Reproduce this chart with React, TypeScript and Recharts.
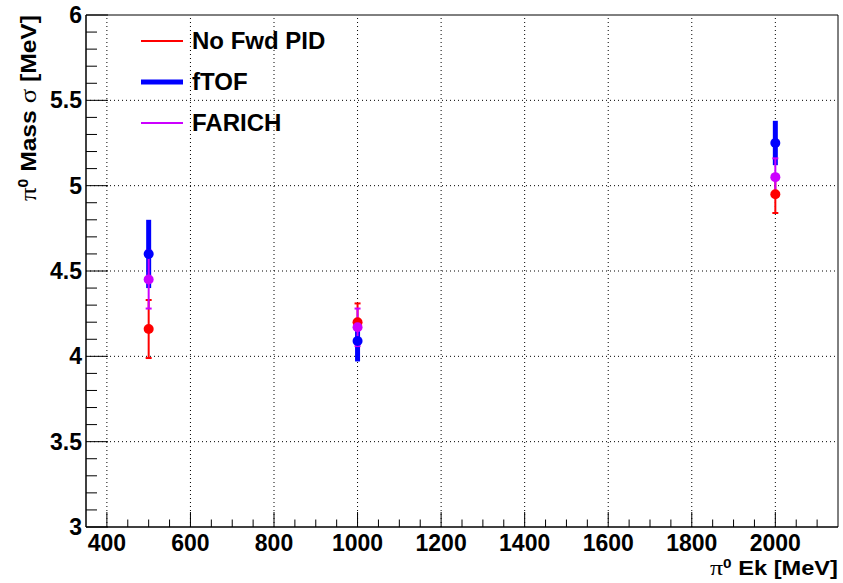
import React from "react";
import {
  ScatterChart,
  Scatter,
  XAxis,
  YAxis,
  ErrorBar,
  ReferenceLine,
  Legend,
} from "recharts";

const ek = [500, 1000, 2000];

const noFwdPid = [4.16, 4.2, 4.95];
const noFwdPidErr = [0.17, 0.11, 0.11];

const ftof = [4.6, 4.09, 5.25];
const ftofErr = [0.2, 0.12, 0.13];

const farich = [4.45, 4.17, 5.05];
const farichErr = [0.17, 0.11, 0.11];

const xMajorTicks = [400, 600, 800, 1000, 1200, 1400, 1600, 1800, 2000];
const yMajorTicks = [3, 3.5, 4, 4.5, 5, 5.5, 6];

const xDomain = [350, 2150];
const yDomain = [3, 6];

// minor ticks: 4 divisions on x, 5 on y
const xTicks: number[] = [];
for (let v = 400; v <= 2100; v += 50) xTicks.push(v);
const yTicks: number[] = [];
for (let i = 0; i <= 30; i++) yTicks.push(Math.round((3 + i * 0.1) * 10) / 10);

const RED = "#ff0000";
const BLUE = "#0000ff";
const MAGENTA = "#cc00ff";
const FONT = "'Liberation Sans', Arial, Helvetica, sans-serif";
const SYMBOL = "'Liberation Serif', 'DejaVu Serif', serif";

const series = [
  { name: "No Fwd PID", color: RED, width: 2, vals: noFwdPid, errs: noFwdPidErr },
  { name: "fTOF", color: BLUE, width: 5, vals: ftof, errs: ftofErr },
  { name: "FARICH", color: MAGENTA, width: 2, vals: farich, errs: farichErr },
];

const XTick = (props: any) => {
  const { x, y, payload } = props;
  const v = payload.value;
  const major = xMajorTicks.includes(v);
  return (
    <g>
      <line x1={x} x2={x} y1={y} y2={y - (major ? 15 : 7.5)} stroke="#000" strokeWidth={1} />
      {major && (
        <text x={x} y={y + 24} textAnchor="middle" fontFamily={FONT} fontWeight="bold" fontSize={23} fill="#000">
          {v}
        </text>
      )}
    </g>
  );
};

const YTick = (props: any) => {
  const { x, y, payload } = props;
  const v = payload.value;
  const major = yMajorTicks.some((m) => Math.abs(m - v) < 1e-6);
  return (
    <g>
      <line x1={x} x2={x + (major ? 22 : 11)} y1={y} y2={y} stroke="#000" strokeWidth={1} />
      {major && (
        <text x={x - 4} y={y + 8} textAnchor="end" fontFamily={FONT} fontWeight="bold" fontSize={23} fill="#000">
          {v}
        </text>
      )}
    </g>
  );
};

const XTitle = (props: any) => {
  const { x, y, width } = props.viewBox;
  return (
    <text
      x={x + width}
      y={y + 48}
      textAnchor="end"
      fontFamily={FONT}
      fontWeight="bold"
      fontSize={20}
      fill="#000"
      textLength={128}
      lengthAdjust="spacingAndGlyphs"
    >
      <tspan fontFamily={SYMBOL} fontWeight="normal" fontSize={22}>π</tspan>
      <tspan dy={-7} fontSize={13}>0</tspan>
      <tspan dy={7}> Ek [MeV]</tspan>
    </text>
  );
};

const YTitle = (props: any) => {
  const { x, y } = props.viewBox;
  const tx = x + 36;
  const ty = y;
  return (
    <text
      x={tx}
      y={ty}
      transform={`rotate(-90, ${tx}, ${ty})`}
      textAnchor="end"
      fontFamily={FONT}
      fontWeight="bold"
      fontSize={22}
      fill="#000"
      textLength={186}
      lengthAdjust="spacingAndGlyphs"
    >
      <tspan fontFamily={SYMBOL} fontWeight="normal" fontSize={24}>π</tspan>
      <tspan dy={-8} fontSize={14}>0</tspan>
      <tspan dy={8}> Mass </tspan>
      <tspan fontFamily={SYMBOL} fontWeight="normal" fontSize={24}>σ</tspan>
      <tspan> [MeV]</tspan>
    </text>
  );
};

const LegendBox = () => (
  <svg width={220} height={120}>
    {series.map((s, i) => {
      const cy = 21 + i * 41;
      return (
        <g key={s.name}>
          <line x1={11} x2={53} y1={cy} y2={cy} stroke={s.color} strokeWidth={s.width} />
          <text x={62} y={cy + 8} fontFamily={FONT} fontWeight="bold" fontSize={24} fill="#000">
            {s.name}
          </text>
        </g>
      );
    })}
  </svg>
);

export default function App() {
  return (
    <div style={{ position: "absolute", left: 0, top: 0, width: 843, height: 583, background: "#fff" }}>
      <ScatterChart width={843} height={583} margin={{ top: 15, right: 5, bottom: 0, left: 0 }}>
        <XAxis
          type="number"
          dataKey="x"
          domain={xDomain}
          ticks={xTicks}
          interval={0}
          tickSize={0}
          tickMargin={0}
          tick={<XTick />}
          height={56}
          axisLine={{ stroke: "#000", strokeWidth: 1.5 }}
          label={<XTitle />}
        />
        <YAxis
          type="number"
          dataKey="y"
          domain={yDomain}
          ticks={yTicks}
          interval={0}
          tickSize={0}
          tickMargin={0}
          tick={<YTick />}
          width={86}
          axisLine={{ stroke: "#000", strokeWidth: 1.5 }}
          label={<YTitle />}
        />
        {xMajorTicks.map((v) => (
          <ReferenceLine key={`gx${v}`} x={v} stroke="#000" strokeWidth={1} strokeDasharray="1 3" />
        ))}
        {yMajorTicks.slice(1, -1).map((v) => (
          <ReferenceLine key={`gy${v}`} y={v} stroke="#000" strokeWidth={1} strokeDasharray="1 3" />
        ))}
        <ReferenceLine x={xDomain[1]} stroke="#000" strokeWidth={1} />
        <ReferenceLine y={yDomain[1]} stroke="#000" strokeWidth={1} />
        {series.map((s) => (
          <Scatter
            key={s.name}
            name={s.name}
            data={ek.map((x, i) => ({ x, y: s.vals[i], err: s.errs[i] }))}
            fill={s.color}
            isAnimationActive={false}
            shape={(p: any) => <circle cx={p.cx} cy={p.cy} r={5} fill={s.color} />}
          >
            <ErrorBar
              dataKey="err"
              direction="y"
              width={s.width > 2 ? 0 : 3}
              stroke={s.color}
              strokeWidth={s.width}
            />
          </Scatter>
        ))}
        <Legend
          layout="vertical"
          align="center"
          verticalAlign="middle"
          content={<LegendBox />}
          wrapperStyle={{ left: 130, top: 20, width: 220, height: 120 }}
        />
      </ScatterChart>
    </div>
  );
}
